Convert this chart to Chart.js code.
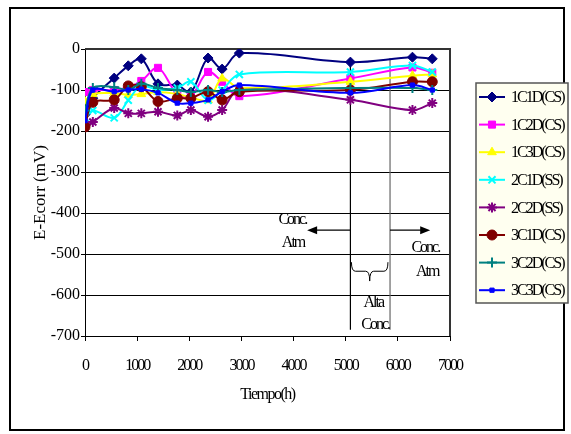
<!DOCTYPE html>
<html>
<head>
<meta charset="utf-8">
<script src="https://cdn.jsdelivr.net/npm/chart.js@4.4.1/dist/chart.umd.min.js"></script>
<style>
  html, body { margin: 0; padding: 0; background: #fff; }
  #wrap { width: 571px; height: 434px; }
</style>
</head>
<body>
<div id="wrap"><canvas id="chart" width="571" height="434"></canvas></div>
<script>
// data
const hours = [0, 150, 560, 830, 1080, 1400, 1770, 2030, 2360, 2630, 2960, 5090, 6280, 6660];

const names = ['1C1D(CS)', '1C2D(CS)', '1C3D(CS)', '2C1D(SS)', '2C2D(SS)', '3C1D(CS)', '3C2D(CS)', '3C3D(CS)'];

const v1C1D = [-160, -120, -71, -41, -24, -85, -88, -105, -22, -49, -10, -32, -20, -24];
const v1C2D = [-105, -100, -100, -93, -78, -46, -110, -115, -56, -80, -115, -72, -45, -58];
const v1C3D = [-128, -110, -108, -112, -110, -105, -110, -118, -125, -72, -95, -80, -65, -62];
const v2C1D = [-168, -150, -168, -125, -90, -100, -95, -80, -125, -100, -62, -56, -40, -56];
const v2C2D = [-190, -178, -144, -157, -157, -153, -162, -149, -165, -149, -100, -124, -149, -132];
const v3C1D = [-190, -130, -124, -90, -92, -128, -120, -120, -104, -124, -104, -100, -80, -80];
const v3C2D = [-150, -95, -93, -100, -85, -95, -100, -105, -100, -105, -100, -95, -95, -100];
const v3C3D = [-175, -100, -104, -100, -98, -107, -132, -132, -124, -104, -88, -107, -88, -100];

const xTicks = [0, 1000, 2000, 3000, 4000, 5000, 6000, 7000];
const yTicks = [0, -100, -200, -300, -400, -500, -600, -700];

// annotation positions (in data units)
const concLines = [5090, 5850];

const allValues = [v1C1D, v1C2D, v1C3D, v2C1D, v2C2D, v3C1D, v3C2D, v3C3D];
const colors = ['#000080', '#FF00FF', '#FFFF00', '#00FFFF', '#800080', '#800000', '#008080', '#0000FF'];
const styles = ['rectRot', 'rect', 'triangle', 'crossRot', 'star', 'circle', 'cross', 'rect'];
const radii = [5, 5, 5, 5, 5, 5, 5, 3];

const datasets = names.map((n, i) => ({
    label: n,
    data: hours.map((h, j) => ({ x: h, y: allValues[i][j] })),
    borderColor: colors[i],
    backgroundColor: colors[i],
    pointStyle: styles[i],
    pointRadius: radii[i],
    pointBorderWidth: (styles[i] === 'crossRot' || styles[i] === 'star' || styles[i] === 'cross') ? 2 : 1,
    borderWidth: 2,
    tension: 0.35,
    order: 8 - i
}));

const FONT = 'Liberation Serif';

// squeeze letters for one drawing method of a scale
function squeeze(scale, method, spacing) {
    if (scale['_sq_' + method]) return;
    const orig = scale[method];
    scale[method] = function (...args) {
        const c = this.ctx;
        const old = c.letterSpacing;
        c.letterSpacing = spacing;
        orig.apply(this, args);
        c.letterSpacing = old;
    };
    scale['_sq_' + method] = true;
}

const extras = {
    id: 'extras',
    beforeDraw(chart) {
        squeeze(chart.scales.x, 'drawLabels', '-2px');
        squeeze(chart.scales.x, 'drawTitle', '-1.5px');
    },
    beforeDatasetsDraw(chart) {
        const { ctx, chartArea: a, scales: { x, y } } = chart;
        ctx.save();
        // plot area border (top / right)
        ctx.strokeStyle = '#333';
        ctx.lineWidth = 2;
        ctx.beginPath();
        ctx.moveTo(a.left, a.top);
        ctx.lineTo(a.right, a.top);
        ctx.lineTo(a.right, a.bottom);
        ctx.stroke();

        // vertical separators
        ctx.lineWidth = 1.2;
        ctx.strokeStyle = '#000';
        ctx.beginPath();
        ctx.moveTo(x.getPixelForValue(concLines[0]), y.getPixelForValue(-27));
        ctx.lineTo(x.getPixelForValue(concLines[0]), y.getPixelForValue(-685));
        ctx.stroke();
        ctx.strokeStyle = '#666';
        ctx.beginPath();
        ctx.moveTo(x.getPixelForValue(concLines[1]), y.getPixelForValue(-22));
        ctx.lineTo(x.getPixelForValue(concLines[1]), y.getPixelForValue(-685));
        ctx.stroke();
        ctx.restore();
    },
    afterDatasetsDraw(chart) {
        const { ctx, scales: { x, y } } = chart;
        ctx.save();
        ctx.strokeStyle = '#000';
        ctx.fillStyle = '#000';
        ctx.lineWidth = 1.2;

        function arrow(x0, x1, yv) {
            const px0 = x.getPixelForValue(x0), px1 = x.getPixelForValue(x1), py = y.getPixelForValue(yv);
            const dir = Math.sign(px1 - px0);
            ctx.beginPath();
            ctx.moveTo(px0, py);
            ctx.lineTo(px1 - dir * 8, py);
            ctx.stroke();
            ctx.beginPath();
            ctx.moveTo(px1, py);
            ctx.lineTo(px1 - dir * 10, py - 4);
            ctx.lineTo(px1 - dir * 10, py + 4);
            ctx.closePath();
            ctx.fill();
        }
        arrow(concLines[0], 4260, -442);
        arrow(concLines[1], 6620, -442);

        // brace
        const bl = x.getPixelForValue(5110), br = x.getPixelForValue(5810);
        const bt = y.getPixelForValue(-520), bm = y.getPixelForValue(-542), bb = y.getPixelForValue(-566);
        const bc = (bl + br) / 2;
        ctx.lineWidth = 1;
        ctx.beginPath();
        ctx.moveTo(bl, bt);
        ctx.quadraticCurveTo(bl, bm, bl + 4, bm);
        ctx.lineTo(bc - 4, bm);
        ctx.quadraticCurveTo(bc, bm, bc, bb);
        ctx.quadraticCurveTo(bc, bm, bc + 4, bm);
        ctx.lineTo(br - 4, bm);
        ctx.quadraticCurveTo(br, bm, br, bt);
        ctx.stroke();

        ctx.letterSpacing = '-2px';
        ctx.font = '16px "' + FONT + '"';
        ctx.textAlign = 'center';
        ctx.textBaseline = 'middle';
        const labels = [
            ['Conc.', 3975, -417], ['Atm', 3990, -473],
            ['Conc.', 6526, -485], ['Atm', 6564, -544],
            ['Alta', 5528, -620], ['Conc.', 5566, -673]
        ];
        labels.forEach(([t, xv, yv]) => ctx.fillText(t, x.getPixelForValue(xv), y.getPixelForValue(yv)));
        ctx.restore();
    },
    afterDraw(chart) {
        const { ctx } = chart;
        ctx.save();
        // outer frame
        ctx.strokeStyle = '#000';
        ctx.lineWidth = 2;
        ctx.strokeRect(10, 8, 554, 422);

        // legend
        const lx = 476, ly = 83, lw = 92, lh = 220;
        ctx.fillStyle = '#FFFFF0';
        ctx.fillRect(lx, ly, lw, lh);
        ctx.strokeStyle = '#555';
        ctx.lineWidth = 1.5;
        ctx.strokeRect(lx, ly, lw, lh);
        ctx.letterSpacing = '-2px';
        ctx.font = '16px "' + FONT + '"';
        ctx.textBaseline = 'middle';
        ctx.textAlign = 'left';
        chart.data.datasets.forEach((ds, i) => {
            const cy = 97 + i * 27.6;
            ctx.strokeStyle = ds.borderColor;
            ctx.lineWidth = 2;
            ctx.beginPath();
            ctx.moveTo(479, cy);
            ctx.lineTo(505, cy);
            ctx.stroke();
            ctx.fillStyle = ds.backgroundColor;
            ctx.lineWidth = ds.pointBorderWidth;
            Chart.helpers.drawPoint(ctx, { pointStyle: ds.pointStyle, radius: ds.pointRadius, rotation: 0, borderWidth: ds.pointBorderWidth }, 492, cy);
            ctx.fillStyle = '#000';
            ctx.fillText(ds.label, 511, cy + 1);
        });
        ctx.restore();
    }
};

new Chart(document.getElementById('chart').getContext('2d'), {
    type: 'line',
    data: { datasets },
    options: {
        responsive: false,
        animation: false,
        layout: { padding: { left: 0, top: 49, right: 121, bottom: 0 } },
        plugins: {
            legend: { display: false },
            tooltip: { enabled: false }
        },
        scales: {
            x: {
                type: 'linear',
                min: 0,
                max: 7000,
                afterFit: s => { s.height = 98; },
                afterBuildTicks: s => { s.ticks = xTicks.map(v => ({ value: v })); },
                ticks: {
                    color: '#000',
                    padding: 15,
                    maxRotation: 0,
                    font: { family: FONT, size: 16 },
                    callback: v => String(v)
                },
                grid: { drawOnChartArea: false, color: '#000', tickLength: 5 },
                border: { color: '#000', width: 1 },
                title: {
                    display: true,
                    text: 'Tiempo(h)',
                    color: '#000',
                    font: { family: FONT, size: 16 },
                    padding: { top: 0, bottom: 30 }
                }
            },
            y: {
                min: -700,
                max: 0,
                afterFit: s => { s.width = 85; },
                afterBuildTicks: s => { s.ticks = yTicks.map(v => ({ value: v })); },
                ticks: {
                    color: '#000',
                    padding: 1,
                    font: { family: FONT, size: 16 },
                    callback: v => String(v)
                },
                grid: { color: '#000', lineWidth: 1, tickLength: 4 },
                border: { color: '#000', width: 1 },
                title: {
                    display: true,
                    text: 'E-Ecorr (mV)',
                    color: '#000',
                    font: { family: FONT, size: 17 },
                    padding: { top: 30, bottom: 0 }
                }
            }
        }
    },
    plugins: [extras]
});
</script>
</body>
</html>
